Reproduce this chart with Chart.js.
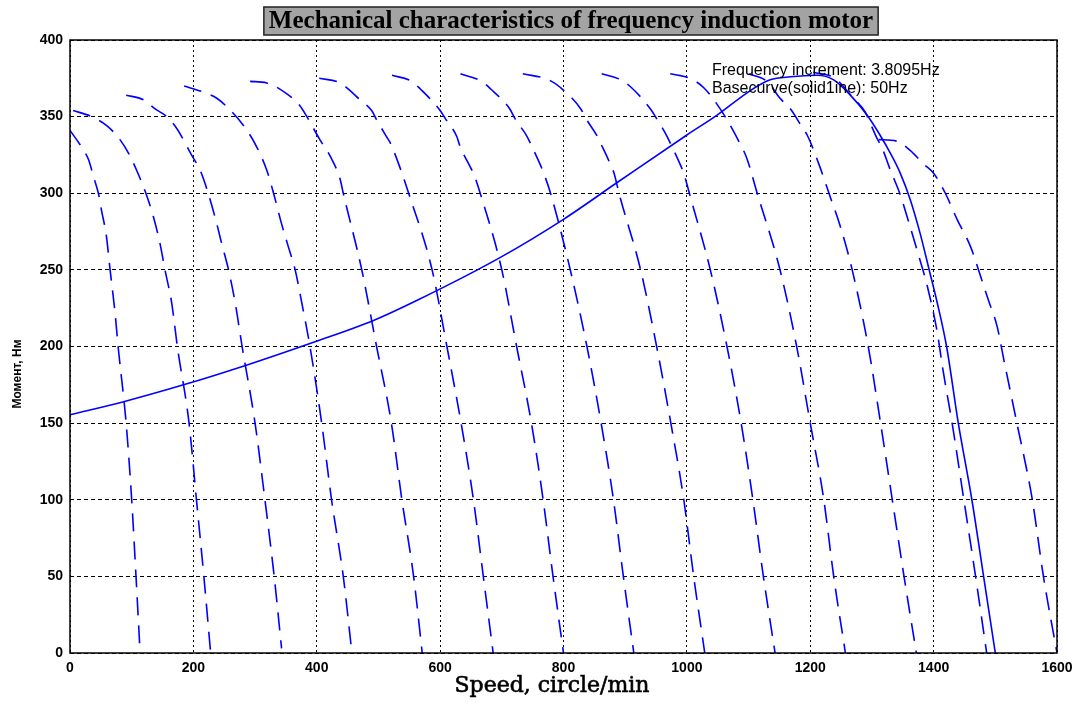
<!DOCTYPE html>
<html>
<head>
<meta charset="utf-8">
<title>Mechanical characteristics of frequency induction motor</title>
<script src="https://cdn.jsdelivr.net/npm/chart.js@4.4.0/dist/chart.umd.min.js"></script>
<style>
  html, body { margin: 0; padding: 0; background: #fff; }
</style>
</head>
<body>
<canvas id="myChart" width="1077" height="704"></canvas>
<script>
// axis ticks
const speedTicks = [0, 200, 400, 600, 800, 1000, 1200, 1400, 1600];
const torqueTicks = [0, 50, 100, 150, 200, 250, 300, 350, 400];

// dashed curves, step 3.8095 Hz, [speed, torque]
const curve1 = [[0,341],[19,330],[30,322],[38,311],[46,300],[51,289],[59,272],[65,250],[73,222],[78,200],[91,150],[100,100],[107,50],[113,5]];
const curve2 = [[5,354],[35,350],[60,344],[81,335],[95,326],[108,315],[123,300],[135,285],[146,267],[154,250],[165,228],[174,200],[193,150],[205,100],[217,50],[228,0]];
const curve3 = [[91,364],[119,361],[138,355],[157,350],[170,344],[181,337],[197,325],[211,315],[224,300],[238,280],[246,267],[257,250],[268,228],[279,200],[300,150],[316,100],[331,50],[343,3]];
const curve4 = [[185,370],[216,366],[238,362],[265,352],[287,341],[303,330],[319,315],[330,300],[343,280],[354,265],[365,250],[376,228],[389,200],[408,150],[424,100],[443,50],[457,0]];
const curve5 = [[292,373],[319,372],[351,365],[373,357],[384,350],[405,335],[422,324],[438,309],[443,300],[473,250],[497,200],[521,150],[538,100],[557,50],[571,0]];
const curve6 = [[404,375],[438,372],[454,367],[470,361],[489,354],[497,348],[513,337],[519,333],[532,320],[549,300],[587,250],[611,200],[634,150],[654,100],[670,50],[686,0]];
const curve7 = [[522,377],[554,373],[568,368],[600,354],[608,349],[627,337],[632,331],[649,317],[654,313],[665,300],[700,250],[724,200],[748,150],[767,100],[783,50],[800,0]];
const curve8 = [[633,378],[667,373],[682,368],[713,355],[721,349],[741,337],[747,332],[763,318],[768,313],[779,300],[811,250],[838,200],[861,150],[881,100],[897,50],[914,0]];
const curve9 = [[734,378],[776,374],[795,369],[828,355],[836,349],[855,337],[861,332],[877,318],[882,313],[890,300],[925,250],[951,200],[974,150],[995,100],[1011,50],[1029,0]];
const curve10 = [[862,378],[893,374],[910,369],[941,355],[949,350],[968,337],[974,332],[990,318],[995,313],[1004,300],[1038,250],[1065,200],[1088,150],[1107,100],[1124,50],[1143,0]];
const curve11 = [[973,378],[1005,375],[1027,369],[1049,358],[1065,348],[1084,334],[1097,323],[1114,300],[1151,250],[1178,200],[1200,150],[1222,100],[1238,50],[1257,0]];
const curve12 = [[1100,378],[1130,373],[1151,362],[1168,355],[1187,343],[1195,338],[1214,319],[1232,298],[1249,278],[1268,250],[1294,200],[1314,150],[1333,100],[1352,50],[1372,0]];
const curve13 = [[1205,379],[1240,375],[1270,362],[1289,353],[1297,346],[1308,336],[1316,330],[1330,315],[1345,300],[1362,278],[1376,259],[1390,239],[1406,209],[1415,185],[1430,150],[1449,100],[1468,50],[1486,0]];
const curve14 = [[1311,335],[1340,334],[1362,328],[1384,319],[1400,313],[1419,300],[1438,283],[1460,265],[1476,246],[1489,230],[1503,213],[1514,191],[1535,150],[1560,100],[1578,50],[1600,0]];

// base curve 50 Hz (solid)
const baseCurve = [[0,155.5],[87,164],[184,175],[287,188],[389,202],[492,217],[562,230],[697,258],[800,283],[887,307],[1000,338],[1049,351],[1103,367],[1135,374],[1168,376],[1211,377],[1238,374],[1265,364],[1292,351],[1313,338],[1330,326],[1346,313],[1362,296],[1378,274],[1394,248],[1405,230],[1421,200],[1440,150],[1462,100],[1481,50],[1500,0]];

const dashedCurves = [curve1, curve2, curve3, curve4, curve5, curve6, curve7, curve8, curve9, curve10, curve11, curve12, curve13, curve14];

const titleText = "Mechanical characteristics of frequency induction motor";
const noteLines = ["Frequency increment: 3.8095Hz", "Basecurve(solid1ine): 50Hz"];
const xTitle = "Speed, circle/min";
const yTitle = "Момент, Нм";

const toPoints = arr => arr.map(p => ({x: p[0], y: p[1]}));

const datasets = dashedCurves.map((c, i) => ({
  label: "f" + (i + 1),
  data: toPoints(c),
  borderColor: "#0000ff",
  borderWidth: 1.6,
  borderDash: [18, 10],
  pointRadius: 0,
  fill: false,
  cubicInterpolationMode: "monotone",
}));
datasets.push({
  label: "50Hz",
  data: toPoints(baseCurve),
  borderColor: "#0000ff",
  borderWidth: 1.6,
  pointRadius: 0,
  fill: false,
  cubicInterpolationMode: "monotone",
});

const decorations = {
  id: "decorations",
  beforeDraw(chart) {
    const ctx = chart.ctx;
    ctx.save();
    ctx.fillStyle = "#fff";
    ctx.fillRect(0, 0, chart.width, chart.height);
    ctx.restore();
  },
  afterDraw(chart) {
    const {ctx, chartArea: a} = chart;
    ctx.save();
    // frame
    ctx.strokeStyle = "#000";
    ctx.lineWidth = 1.5;
    ctx.strokeRect(a.left, a.top, a.right - a.left, a.bottom - a.top);

    // title in grey box
    ctx.font = "bold 25px 'Liberation Serif'";
    const w = ctx.measureText(titleText).width;
    const cx = 571;
    ctx.fillStyle = "#a3a3a3";
    ctx.fillRect(cx - w / 2 - 5, 7, w + 10, 28);
    ctx.strokeStyle = "#222";
    ctx.lineWidth = 1.5;
    ctx.strokeRect(cx - w / 2 - 5, 7, w + 10, 28);
    ctx.fillStyle = "#000";
    ctx.textAlign = "center";
    ctx.textBaseline = "middle";
    ctx.fillText(titleText, cx, 22);

    // note text
    ctx.font = "16px 'Liberation Sans'";
    ctx.textAlign = "left";
    ctx.fillText(noteLines[0], 712, 71);
    ctx.fillText(noteLines[1], 712, 89);

    // x title
    ctx.font = "22px 'DejaVu Serif'";
    ctx.textAlign = "center";
    ctx.strokeStyle = "#000";
    ctx.lineWidth = 0.6;
    ctx.fillText(xTitle, 552, 686);
    ctx.strokeText(xTitle, 552, 686);

    // y title
    ctx.translate(18, 374);
    ctx.rotate(-Math.PI / 2);
    ctx.font = "bold 12px 'Liberation Sans'";
    ctx.fillText(yTitle, 0, 0);
    ctx.restore();
  }
};

new Chart(document.getElementById("myChart"), {
  type: "line",
  data: {datasets: datasets},
  plugins: [decorations],
  options: {
    responsive: false,
    devicePixelRatio: 1,
    animation: false,
    layout: {padding: {top: 40, right: 20, left: 0, bottom: 0}},
    plugins: {
      legend: {display: false},
      tooltip: {enabled: false},
      title: {display: false},
    },
    scales: {
      x: {
        type: "linear",
        min: 0,
        max: 1600,
        afterBuildTicks: scale => { scale.ticks = speedTicks.map(v => ({value: v})); },
        afterFit: scale => {
          scale.height = 51;
          scale.paddingLeft = 0;
          scale.paddingRight = 0;
        },
        ticks: {color: "#000", font: {family: "Liberation Sans", size: 14, weight: "bold"}, padding: 7, maxRotation: 0, callback: v => String(v)},
        grid: {color: "#000", lineWidth: 1, drawTicks: false},
        border: {display: false, dash: [2, 3]},
      },
      y: {
        type: "linear",
        min: 0,
        max: 400,
        afterBuildTicks: scale => { scale.ticks = torqueTicks.map(v => ({value: v})); },
        afterFit: scale => {
          scale.width = 70;
          scale.paddingTop = 0;
          scale.paddingBottom = 0;
        },
        ticks: {color: "#000", font: {family: "Liberation Sans", size: 14, weight: "bold"}, padding: 7, callback: v => String(v)},
        grid: {color: "#000", lineWidth: 1, drawTicks: false},
        border: {display: false, dash: [4, 3]},
      },
    },
  },
});
</script>
</body>
</html>
